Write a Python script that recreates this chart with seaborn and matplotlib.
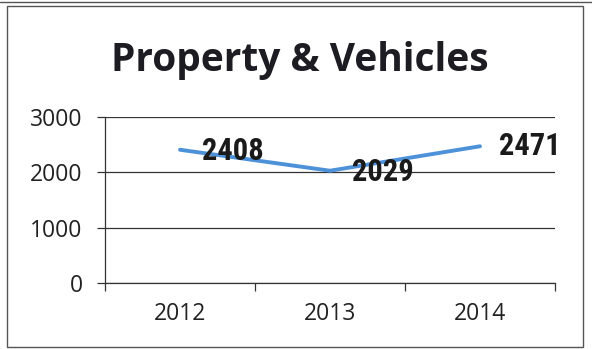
import matplotlib
matplotlib.use("Agg")
import matplotlib.pyplot as plt
import seaborn as sns
import pandas as pd
from matplotlib.patches import Rectangle
from matplotlib.lines import Line2D

years = ["2012", "2013", "2014"]
counts = [2408, 2029, 2471]
title = "Property & Vehicles"
yticks = [0, 1000, 2000, 3000]

df = pd.DataFrame({"year": years, "count": counts})

sns.set_theme(style="white")
plt.rcParams["font.family"] = ["Open Sans", "DejaVu Sans"]

W, H, DPI = 592, 349, 100
fig = plt.figure(figsize=(W / DPI, H / DPI), dpi=DPI)
fig.patch.set_facecolor("white")

# plot area in pixel coordinates
x0, x1, ytop, ybot = 105, 555, 117, 283
ax = fig.add_axes([x0 / W, 1 - ybot / H, (x1 - x0) / W, (ybot - ytop) / H])

sns.lineplot(data=df, x="year", y="count", ax=ax, color="#4d92d9",
             linewidth=2.8, sort=False, solid_capstyle="round")

ax.set_xlim(-0.5, 2.5)
ax.set_ylim(0, 3000)
ax.set_yticks(yticks)
ax.set_yticklabels([str(v) for v in yticks])
ax.set_xlabel("")
ax.set_ylabel("")

# gridlines
for v in yticks:
    ax.axhline(v, color="#333333", linewidth=0.9, zorder=0)

for side in ["top", "right"]:
    ax.spines[side].set_visible(False)
ax.spines["left"].set_color("#333333")
ax.spines["left"].set_linewidth(0.9)
ax.spines["bottom"].set_color("#333333")
ax.spines["bottom"].set_linewidth(0.9)

# category boundary ticks on x
ax.set_xticks([0, 1, 2])
ax.set_xticks([-0.5, 0.5, 1.5, 2.5], minor=True)
ax.tick_params(axis="x", which="major", length=0, pad=14, labelsize=16.5,
               labelcolor="#222222")
ax.tick_params(axis="x", which="minor", length=6, width=0.9, color="#333333",
               direction="out")
ax.tick_params(axis="y", which="major", length=6, width=0.9, color="#333333",
               direction="out", pad=10, labelsize=16.5, labelcolor="#222222")
ax.tick_params(bottom=True, left=True, which="both")

# value labels, placed to the right of each point
offsets = [(38, -1), (38, -1), (36, 0)]
narrow = ["Liberation Sans Narrow", "Roboto Condensed", "DejaVu Sans"]
for i, (v, (dx, dy)) in enumerate(zip(counts, offsets)):
    ax.annotate(str(v), (i, v), xytext=(dx, dy), textcoords="offset points",
                ha="center", va="center", fontsize=22, fontweight="bold",
                family=narrow, stretch="condensed", color="#1a1a1a")

fig.text(300 / W, 1 - 61 / H, title, ha="center", va="center",
         fontsize=28, fontweight="bold", color="#1c1c22")

# outer frame
fig.patches.append(Rectangle((7 / W, 1 - 347 / H), (583 - 7) / W, (347 - 6) / H,
                             transform=fig.transFigure, fill=False,
                             edgecolor="#555555", linewidth=1.0))
fig.lines.append(Line2D([0, 1], [1 - 1.5 / H, 1 - 1.5 / H],
                        transform=fig.transFigure, color="#555555", linewidth=1.0))

fig.savefig("out.png", dpi=DPI, facecolor="white")
